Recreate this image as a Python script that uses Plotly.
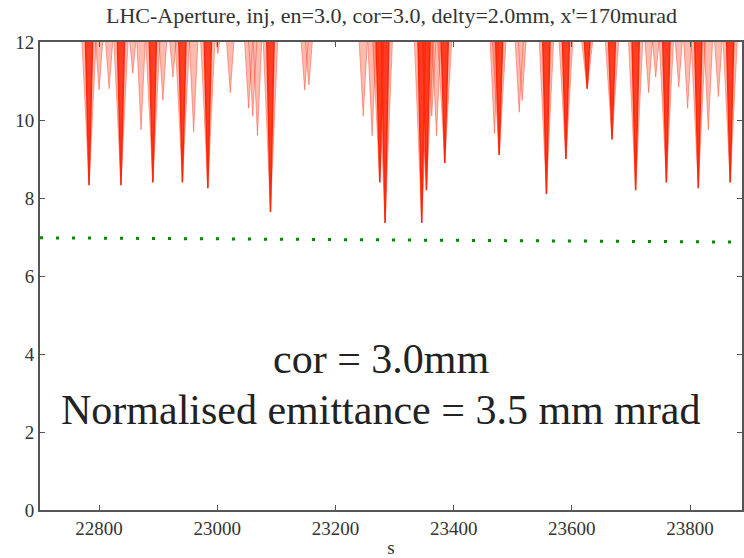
import plotly.graph_objects as go

# ---- data ----
# aperture minima (dark spikes): s position and minimum aperture value
dark_s = [22783, 22837, 22891, 22941, 22984, 23090, 23275, 23284, 23346, 23354,
          23385, 23477, 23557, 23590, 23626, 23668, 23708, 23760, 23814, 23868]
dark_min = [8.33, 8.33, 8.4, 8.4, 8.25, 7.64, 8.4, 7.36, 7.36, 8.2,
            8.9, 9.1, 8.1, 9.0, 10.8, 9.5, 8.2, 8.4, 8.25, 8.4]

# secondary (faint) aperture minima
faint_s = [22800, 22817, 22857, 22871, 22908, 22925, 22960, 23001, 23022, 23053,
           23060, 23068, 23148, 23155, 23247, 23262, 23363, 23371, 23469, 23511,
           23516, 23730, 23742, 23781, 23796, 23831, 23848]
faint_min = [10.77, 10.8, 11.2, 9.75, 10.5, 11.1, 9.7, 11.7, 10.7, 10.3,
             10.1, 9.6, 10.77, 10.9, 10.1, 9.6, 10.1, 9.6, 9.65, 10.2,
             10.5, 10.7, 11.1, 10.85, 10.3, 9.75, 10.6]

# green dotted reference line
limit_s = [22700, 23888]
limit_y = [6.98, 6.87]

x_ticks = [22800, 23000, 23200, 23400, 23600, 23800]
y_ticks = [0, 2, 4, 6, 8, 10, 12]

title_text = "LHC-Aperture, inj, en=3.0, cor=3.0, delty=2.0mm, x'=170murad"
note1 = "cor = 3.0mm"
note2 = "Normalised emittance = 3.5 mm mrad"

# ---- styling ----
W, H = 744, 558
ML, MR, MT, MB = 40, 0, 42, 48
SERIF = "Liberation Serif"
TOP = 12.6    # spikes start above the visible range


def spikes(svals, mins, half):
    xs, ys = [], []
    for s, m in zip(svals, mins):
        xs += [s - half, s, s + half, None]
        ys += [TOP, m, TOP, None]
    return xs, ys


fig = go.Figure()

fx, fy = spikes(faint_s, faint_min, 9)
fig.add_trace(go.Scatter(x=fx, y=fy, mode="lines", fill="toself",
                         fillcolor="rgba(255,60,30,0.35)",
                         line=dict(color="rgba(255,60,30,0.45)", width=1),
                         hoverinfo="skip", showlegend=False))

dx, dy = spikes(dark_s, dark_min, 14)
fig.add_trace(go.Scatter(x=dx, y=dy, mode="lines", fill="toself",
                         fillcolor="rgba(255,60,30,0.35)",
                         line=dict(color="rgba(255,60,30,0.4)", width=1),
                         hoverinfo="skip", showlegend=False))
dx2, dy2 = spikes(dark_s, dark_min, 7)
fig.add_trace(go.Scatter(x=dx2, y=dy2, mode="lines", fill="toself",
                         fillcolor="rgba(255,40,10,0.85)",
                         line=dict(color="rgb(255,40,10)", width=1.5),
                         hoverinfo="skip", showlegend=False))

fig.add_trace(go.Scatter(x=limit_s, y=limit_y, mode="lines",
                         line=dict(color="#008a00", width=3, dash="3px,13px"),
                         hoverinfo="skip", showlegend=False))

axis_common = dict(showline=True, linecolor="#555555", linewidth=2,
                   ticks="inside", ticklen=5, tickcolor="#555555",
                   mirror="ticks", showgrid=False, zeroline=False,
                   tickfont=dict(family=SERIF, size=19, color="#333333"))

fig.update_xaxes(range=[22700, 23888], tickvals=x_ticks,
                 ticktext=[str(v) for v in x_ticks],
                 title=dict(text="s", font=dict(family=SERIF, size=19, color="#333333"),
                            standoff=4),
                 **axis_common)
fig.update_yaxes(range=[0, 12], tickvals=y_ticks,
                 ticktext=[str(v) for v in y_ticks],
                 **axis_common)

fig.add_annotation(text=title_text, xref="paper", yref="paper",
                   x=(393 - ML) / (W - ML - MR), y=1 + (MT - 16) / (H - MT - MB),
                   showarrow=False, xanchor="center", yanchor="middle",
                   font=dict(family=SERIF, size=22, color="#333333"))
fig.add_annotation(text=note1, xref="paper", yref="paper",
                   x=(382 - ML) / (W - ML - MR), y=(H - MB - 359) / (H - MT - MB),
                   showarrow=False, xanchor="center", yanchor="middle",
                   font=dict(family=SERIF, size=42, color="#222222"))
fig.add_annotation(text=note2, xref="paper", yref="paper",
                   x=(382 - ML) / (W - ML - MR), y=(H - MB - 410) / (H - MT - MB),
                   showarrow=False, xanchor="center", yanchor="middle",
                   font=dict(family=SERIF, size=42, color="#222222"))

fig.update_layout(width=W, height=H, margin=dict(l=ML, r=MR, t=MT, b=MB),
                  paper_bgcolor="white", plot_bgcolor="white")

fig.write_html("out.html")
